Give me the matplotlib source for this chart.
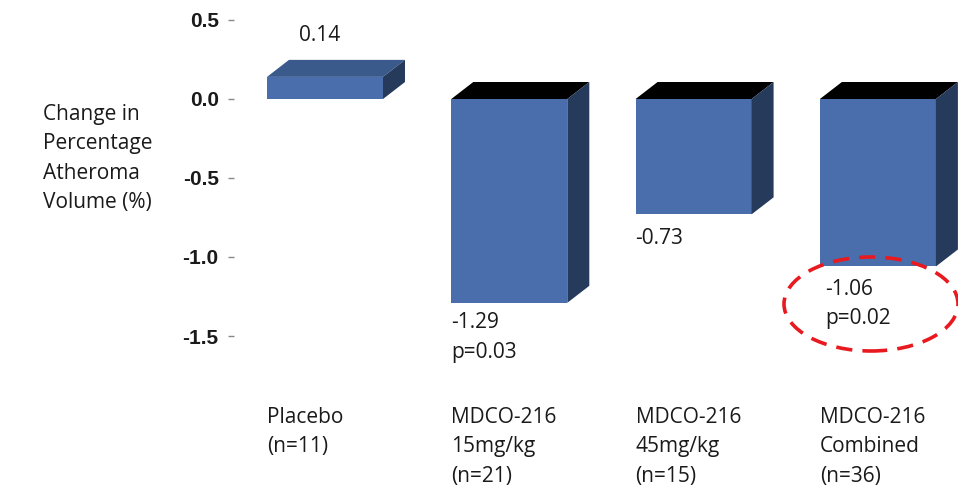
import matplotlib.pyplot as plt
from matplotlib.patches import Polygon, Ellipse

# values for each treatment arm
groups = ["Placebo\n(n=11)", "MDCO-216\n15mg/kg\n(n=21)",
          "MDCO-216\n45mg/kg\n(n=15)", "MDCO-216\nCombined\n(n=36)"]
changes = [0.14, -1.29, -0.73, -1.06]
p_values = [None, "p=0.03", None, "p=0.02"]
yticks = [0.5, 0.0, -0.5, -1.0, -1.5]

front = "#4a6dab"
side = "#263a5c"
top_pos = "#3a5a8c"
top_neg = "#000000"
txt = "#1a1a1a"

fig = plt.figure(figsize=(9.58, 4.88), dpi=100)
W, H = 958, 488
ax = fig.add_axes([234 / W, (H - 336) / H, (W - 234) / W, (336 - 20) / H])
step = 184.3
ax.set_xlim((234 - 325) / step, (958 - 325) / step)
ax.set_ylim(-1.5, 0.5)

bw = 116 / step
dx, dy = 22 / step, 17 / 158

for i, v in enumerate(changes):
    x0, x1 = i - bw / 2, i + bw / 2
    ax.bar(i, v, width=bw, color=front, zorder=2)
    hi = max(v, 0)
    lo = min(v, 0)
    # top face
    ax.add_patch(Polygon([(x0, hi), (x1, hi), (x1 + dx, hi + dy), (x0 + dx, hi + dy)],
                         closed=True, facecolor=top_pos if v > 0 else top_neg,
                         edgecolor="none", zorder=2))
    # side face
    ax.add_patch(Polygon([(x1, lo), (x1, hi), (x1 + dx, hi + dy), (x1 + dx, lo + dy)],
                         closed=True, facecolor=side, edgecolor="none", zorder=2))

# value labels
lab_font = dict(family="Open Sans", fontsize=15, color=txt)
ls = 1.52
ax.text(0 - 0.03, changes[0] + 0.26, f"{changes[0]:.2f}", ha="center", va="center", **lab_font)
ax.text(1 - bw / 2, changes[1] - 0.06, f"{changes[1]:.2f}\n{p_values[1]}", ha="left", va="top",
        linespacing=ls, **lab_font)
ax.text(2 - bw / 2, changes[2] - 0.15, f"{changes[2]:.2f}", ha="left", va="center", **lab_font)
ax.text(3 - bw / 2 + 0.03, changes[3] - 0.08, f"{changes[3]:.2f}\n{p_values[3]}", ha="left", va="top",
        linespacing=ls, **lab_font)

# dashed highlight around the combined result
ax.add_patch(Ellipse(((871 - 325) / step, -(304 - 99) / 158), 174 / step, 94 / 158,
                     fill=False, edgecolor="#e8191f", linestyle=(0, (4.5, 2.8)), linewidth=2.6,
                     clip_on=False, zorder=3))

# category labels under the bars
for i, g in enumerate(groups):
    ax.text(i - bw / 2, -(407 - 99) / 158, g, ha="left", va="top", linespacing=ls,
            clip_on=False, **lab_font)

ax.set_yticks(yticks)
ax.set_yticklabels([f"{t:.1f}" for t in yticks], family="Liberation Sans",
                   fontweight="bold", fontsize=15, color=txt)
ax.tick_params(axis="y", length=4, width=1, color="#888888", pad=7)
ax.set_xticks([])
for s in ax.spines.values():
    s.set_visible(False)

fig.text(43 / W, 1 - 104 / H, "Change in\nPercentage\nAtheroma\nVolume (%)", ha="left", va="top",
         linespacing=ls, **lab_font)

fig.savefig("out.png", dpi=100)
